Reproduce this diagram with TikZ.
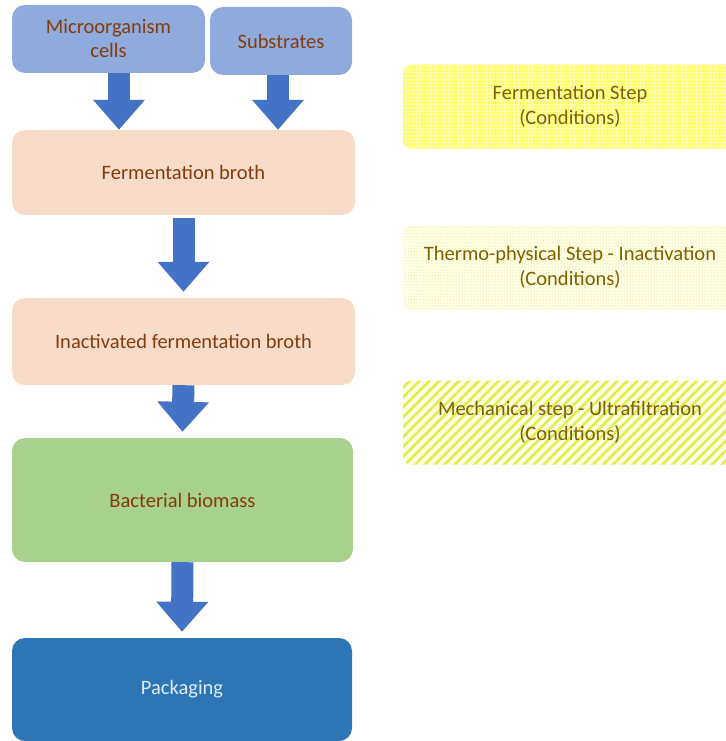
\documentclass[tikz,border=0pt]{standalone}
\usepackage{fontspec}
\setmainfont{Carlito}
\usetikzlibrary{arrows.meta,patterns.meta}
\definecolor{topblue}{HTML}{8FAADC}
\definecolor{peach}{HTML}{F8DCCA}
\definecolor{leaf}{HTML}{A9D18E}
\definecolor{deepblue}{HTML}{2E75B6}
\definecolor{arrowblue}{HTML}{4472C4}
\definecolor{brownt}{HTML}{843C0C}
\definecolor{olivet}{HTML}{7F6000}
\definecolor{paletxt}{HTML}{DEEBF7}
\definecolor{gridbg}{HTML}{FFFF66}
\definecolor{gridln}{HTML}{FFFFB8}
\definecolor{dotbg}{HTML}{FFFFE8}
\definecolor{dotfg}{HTML}{F2EEA0}
\definecolor{stripebg}{HTML}{FCFDE6}
\definecolor{stripefg}{HTML}{E4EE48}
\tikzset{
  flowbox/.style={rounded corners=13pt, inner sep=0pt, align=center, text=brownt,
    font=\fontsize{20.5}{24}\selectfont},
  condbox/.style={rounded corners=8pt, inner sep=0pt, align=center, text=olivet,
    font=\fontsize{20.5}{24.5}\selectfont, minimum width=334pt, minimum height=84pt},
  blockarrow/.style={draw=arrowblue, line width=22pt,
    -{Triangle[width=50pt,length=30pt]}, shorten <=0pt},
}
\begin{document}
\begin{tikzpicture}[x=1pt,y=1pt]
\useasboundingbox (0,0) rectangle (725,-741);
% left flow boxes
\node[flowbox, fill=topblue, minimum width=193pt, minimum height=68pt] (micro) at (108.5,-39) {Microorganism\\cells};
\node[flowbox, fill=topblue, minimum width=142pt, minimum height=68pt] (subs) at (281,-41) {Substrates};
\node[flowbox, fill=peach, minimum width=343pt, minimum height=85pt] (fb) at (183.5,-172.5) {Fermentation broth};
\node[flowbox, fill=peach, minimum width=343pt, minimum height=87pt] (ifb) at (183.5,-341.5) {Inactivated fermentation broth};
\node[flowbox, fill=leaf, minimum width=341pt, minimum height=124pt] (bb) at (182.5,-500) {Bacterial biomass};
\node[flowbox, fill=deepblue, text=paletxt, minimum width=340pt, minimum height=103pt] (pk) at (182,-689.5) {Packaging};
% right condition boxes
\node[condbox, preaction={fill=gridbg}, pattern={Hatch[angle=0,distance=3.5pt,line width=0.9pt]}, pattern color=gridln] (c1) at (570,-106.5) {Fermentation Step\\(Conditions)};
\node[condbox, preaction={fill=dotbg}, pattern={Dots[radius=0.75pt,distance=3pt]}, pattern color=dotfg] (c2) at (570,-267.5) {Thermo-physical Step - Inactivation\\(Conditions)};
\node[condbox, preaction={fill=stripebg}, pattern={Lines[angle=45,distance=7pt,line width=2.6pt]}, pattern color=stripefg] (c3) at (570,-422.5) {Mechanical step - Ultrafiltration\\(Conditions)};
% block arrows
\draw[blockarrow] ([xshift=10.5pt]micro.south) -- ([xshift=10.5pt]micro.south |- fb.north);
\draw[blockarrow] ([xshift=-3pt]subs.south) -- ([xshift=-3pt]subs.south |- fb.north);
\draw[blockarrow] ([yshift=-3pt]fb.south) -- ([yshift=6pt]ifb.north);
\draw[blockarrow] (ifb.south) -- ([yshift=6pt]bb.north);
\draw[blockarrow] (bb.south) -- ([yshift=6pt]pk.north);
\end{tikzpicture}
\end{document}
